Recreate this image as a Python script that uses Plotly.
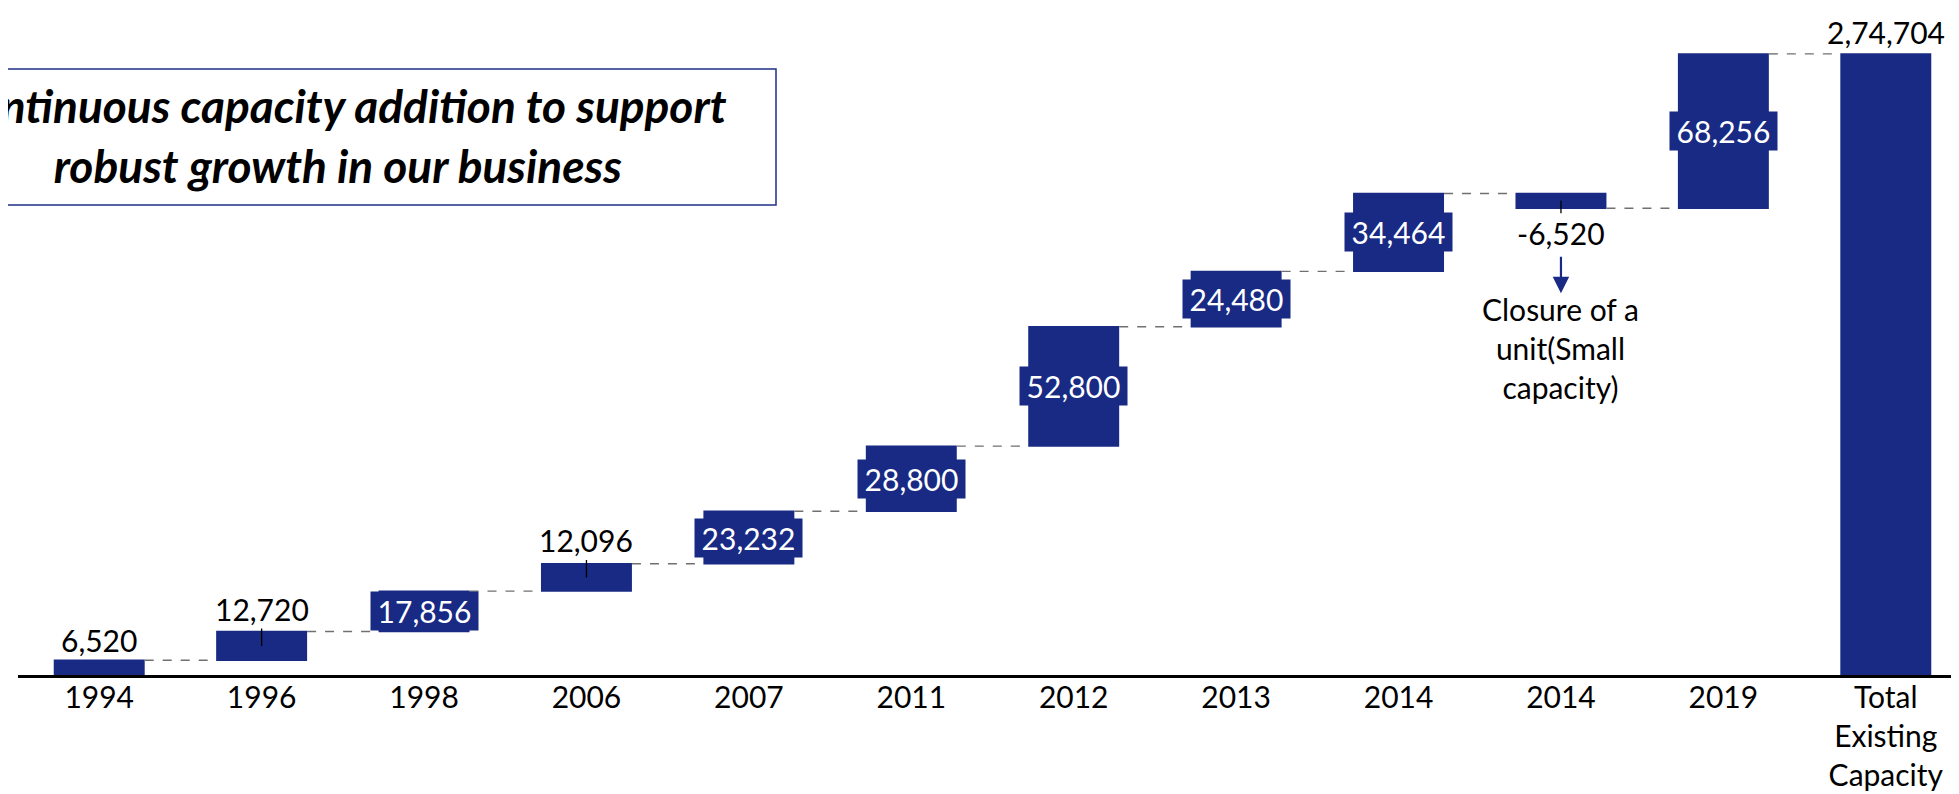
import numpy as np
import plotly.graph_objects as go

# ---------------- data ----------------
categories = ["1994", "1996", "1998", "2006", "2007", "2011", "2012",
              "2013", "2014", "2014", "2019", "Total<br>Existing<br>Capacity"]
measures = ["relative"] * 11 + ["total"]
values = [6520, 12720, 17856, 12096, 23232, 28800, 52800,
          24480, 34464, -6520, 68256, 274704]
note_text = "Closure of a<br>unit(Small<br>capacity)"
title_text = "Continuous capacity addition to support<br>robust growth in our business"

# ---------------- style ----------------
NAVY = "#182A83"
FONT = "Lato"
FS = 30


def indian(n):
    s = str(abs(int(n)))
    if len(s) > 3:
        head, tail = s[:-3], s[-3:]
        groups = []
        while len(head) > 2:
            groups.insert(0, head[-2:])
            head = head[:-2]
        if head:
            groups.insert(0, head)
        s = ",".join(groups + [tail])
    return ("-" if n < 0 else "") + s


x = list(range(len(categories)))
rel = np.array(values[:-1], dtype=float)
ends = np.cumsum(rel)
starts = ends - rel

fig = go.Figure(go.Waterfall(
    x=x, y=values, measure=measures,
    increasing=dict(marker=dict(color=NAVY)),
    decreasing=dict(marker=dict(color=NAVY)),
    totals=dict(marker=dict(color=NAVY)),
    connector=dict(mode="between", line=dict(color="#707070", width=1.4, dash="dash")),
    textinfo="none", hoverinfo="skip",
))

ann = []
for i, v in enumerate(values[:-1]):
    mid = (starts[i] + ends[i]) / 2
    lab = indian(v)
    if abs(v) > 15000:
        ann.append(dict(x=i, y=mid, text=lab, showarrow=False,
                        font=dict(family=FONT, size=FS, color="white"),
                        bgcolor=NAVY, width=107, height=38, borderpad=0,
                        xanchor="center", yanchor="middle"))
    elif i == 0:
        ann.append(dict(x=i, y=ends[i], text=lab, showarrow=False,
                        font=dict(family=FONT, size=FS, color="black"),
                        xanchor="center", yanchor="bottom"))
    else:
        ann.append(dict(x=i, y=mid, text=lab, showarrow=True, arrowhead=0,
                        arrowwidth=1.3, arrowcolor="black", ax=0,
                        ay=-37 if v > 0 else 32,
                        font=dict(family=FONT, size=FS, color="black")))

# total label
ann.append(dict(x=len(values) - 1, y=ends[-1], text=indian(ends[-1]), showarrow=False,
                font=dict(family=FONT, size=FS, color="black"),
                xanchor="center", yanchor="bottom", yshift=2))

# closure note with arrow
neg = [i for i, v in enumerate(values[:-1]) if v < 0][0]
ann.append(dict(x=neg, y=starts[neg] + values[neg], text="", showarrow=True,
                arrowhead=2, arrowsize=1.5, arrowwidth=2.2, arrowcolor=NAVY,
                ax=0, ay=-38, yshift=-85))
ann.append(dict(x=neg, y=starts[neg] + values[neg], text=note_text, showarrow=False,
                font=dict(family=FONT, size=FS, color="black"),
                xanchor="center", yanchor="middle", yshift=-140))

# title box text
ann.append(dict(xref="paper", yref="paper", x=0.1642, y=1 - 127 / 667,
                text="<b><i>" + title_text + "</i></b>", showarrow=False,
                font=dict(family=FONT, size=46, color="black"),
                xanchor="center", yanchor="middle", align="center"))

fig.update_layout(
    template="none",
    width=1959, height=794,
    margin=dict(l=10, r=0, t=0, b=127, autoexpand=False),
    paper_bgcolor="white", plot_bgcolor="white",
    showlegend=False,
    waterfallgap=0.44,
    annotations=ann,
    shapes=[dict(type="rect", xref="paper", yref="paper",
                 x0=-0.05, x1=(768 - 10) / 1949, y0=1 - 197 / 667, y1=1 - 61 / 667,
                 line=dict(color="#1F2F86", width=1.5), fillcolor="white",
                 layer="below")],
    xaxis=dict(range=[-0.5, 11.5], tickvals=x, ticktext=categories,
               showline=True, linecolor="black", linewidth=2.5,
               ticks="", ticklabelstandoff=-6,
               tickfont=dict(family=FONT, size=FS, color="black"),
               showgrid=False, zeroline=False, automargin=False),
    yaxis=dict(range=[0, 295000], visible=False, showgrid=False,
               zeroline=False, automargin=False),
)

fig.write_html("out.html")
